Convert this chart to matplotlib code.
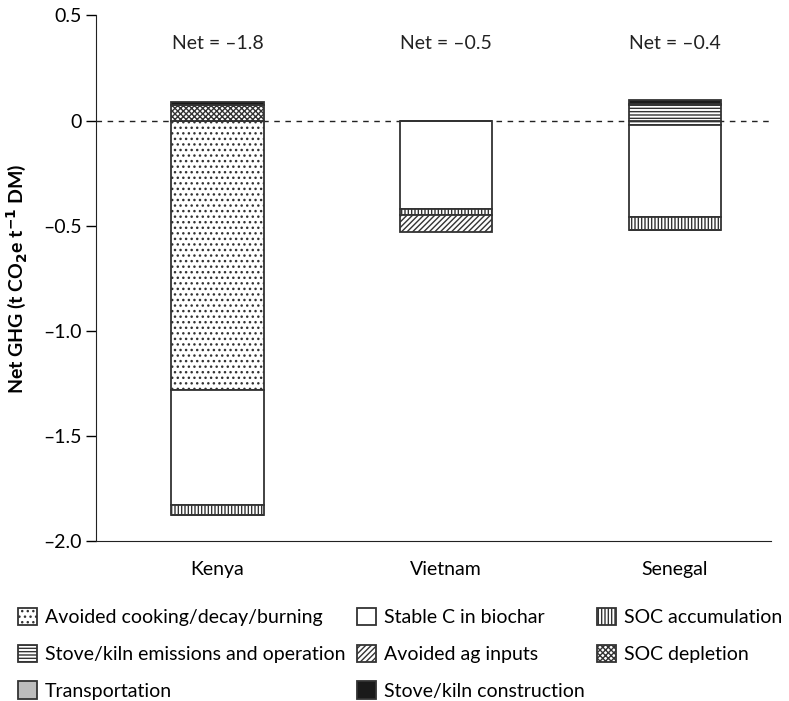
import matplotlib.pyplot as plt
import matplotlib.ticker as mticker

plt.rcParams['font.family'] = ['Lato', 'DejaVu Sans']
plt.rcParams['hatch.linewidth'] = 1.0

sites = ["Kenya", "Vietnam", "Senegal"]
net_labels = ["Net = \u20131.8", "Net = \u20130.5", "Net = \u20130.4"]

# components per site (t CO2e per t DM)
avoided_cooking = [-1.28, 0.0, 0.0]
stable_c = [-0.55, -0.42, -0.44]
soc_accum = [-0.045, -0.028, -0.06]
stove_emis = [0.0, 0.0, 0.072]
stove_emis_neg = [0.0, 0.0, -0.02]
avoided_ag = [0.0, -0.082, 0.0]
soc_depl = [0.076, 0.0, 0.0]
transport = [0.0, 0.0, 0.008]
construction = [0.013, 0.0, 0.019]

yticks = [0.5, 0, -0.5, -1.0, -1.5, -2.0]
ytick_labels = ["0.5", "0", "\u20130.5", "\u20131.0", "\u20131.5", "\u20132.0"]

edge = "#333333"
fs = 14
fig = plt.figure(figsize=(7.89, 7.01), dpi=100)
ax = fig.add_axes([0.122, 0.228, 0.855, 0.75])

x = list(range(len(sites)))
w = 0.404

def stack(vals, base, **kw):
    b = ax.bar(x, vals, w, bottom=base, edgecolor=edge, linewidth=1.3, **kw)
    return [bb + v for bb, v in zip(base, vals)], b

# negative side
neg = [0.0, 0.0, 0.0]
neg, _ = stack(stove_emis_neg, neg, color="white", hatch="-----")
neg, h_cook = stack(avoided_cooking, neg, color="white", hatch="...")
neg, h_stab = stack(stable_c, neg, color="white")
neg, h_socacc = stack(soc_accum, neg, color="white", hatch="|||||")
neg, h_ag = stack(avoided_ag, neg, color="white", hatch="//////")

# positive side
pos = [0.0, 0.0, 0.0]
pos, h_socdep = stack(soc_depl, pos, color="white", hatch="xxxxxx")
pos, h_stove = stack(stove_emis, pos, color="white", hatch="-----")
pos, h_trans = stack(transport, pos, color="#bdbdbd")
pos, h_cons = stack(construction, pos, color="#1a1a1a")

ax.axhline(0, color="#222222", linestyle=(0, (4, 4)), linewidth=1.0, zorder=0)

for xi, lab in zip(x, net_labels):
    ax.text(xi, 0.367, lab, ha="center", va="center", fontsize=fs, color="#222222")

ax.set_ylim(-2.0, 0.5)
ax.set_xlim(-0.53, 2.42)
ax.yaxis.set_major_locator(mticker.FixedLocator(yticks))
ax.yaxis.set_major_formatter(mticker.FixedFormatter(ytick_labels))
ax.set_xticks(x)
ax.set_xticklabels(sites)
ax.tick_params(axis="x", length=0, labelsize=fs, pad=14)
ax.tick_params(axis="y", direction="out", length=7, width=1.0, labelsize=fs)
for s in ["top", "right"]:
    ax.spines[s].set_visible(False)
ax.spines["left"].set_color("#222222")
ax.spines["bottom"].set_color("#222222")
ax.set_ylabel(r"Net GHG (t CO$_\mathbf{2}$e t$^{\mathbf{-1}}$ DM)", fontsize=fs,
              fontweight="bold", labelpad=10)

handles = [h_cook, h_stove, h_trans, h_stab, h_ag, h_cons, h_socacc, h_socdep]
labels = ["Avoided cooking/decay/burning", "Stove/kiln emissions and operation",
          "Transportation", "Stable C in biochar", "Avoided ag inputs",
          "Stove/kiln construction", "SOC accumulation", "SOC depletion"]
fig.legend(handles, labels, ncol=3, loc="upper left", bbox_to_anchor=(0.0, 0.158),
           frameon=False, fontsize=fs, handlelength=1.0, handleheight=1.0,
           handletextpad=0.4, columnspacing=0.6, labelspacing=0.95)

fig.savefig("out.png", dpi=100)
